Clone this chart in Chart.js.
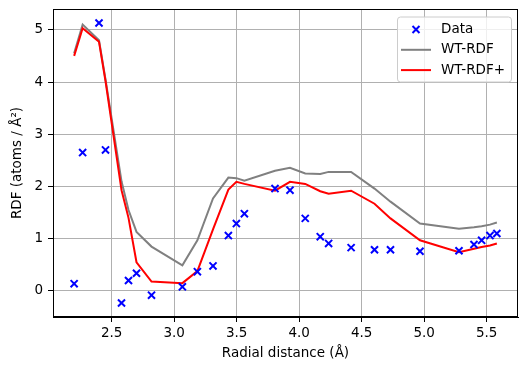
<!DOCTYPE html>
<html>
<head>
<meta charset="utf-8">
<script src="https://cdn.jsdelivr.net/npm/chart.js@4"></script>
<style>
  html, body { margin: 0; padding: 0; background: #fff; }
  canvas { display: block; }
</style>
</head>
<body>
<canvas id="rdf-chart" width="528" height="371"></canvas>
<script>
// radial distances shared by data points and both model curves
const distances = [2.200, 2.268, 2.399, 2.451, 2.579, 2.635, 2.699, 2.819, 3.066, 3.186,
                   3.311, 3.434, 3.498, 3.562, 3.807, 3.927, 4.049, 4.169, 4.236, 4.416,
                   4.603, 4.731, 4.967, 5.279, 5.399, 5.460, 5.527, 5.582];
const dataRdf = [0.14, 2.65, 5.13, 2.70, -0.23, 0.20, 0.34, -0.08, 0.08, 0.37,
                 0.48, 1.06, 1.29, 1.48, 1.96, 1.93, 1.39, 1.04, 0.91, 0.83,
                 0.79, 0.79, 0.76, 0.77, 0.89, 0.97, 1.06, 1.10];
const wtRdf = [4.55, 5.10, 4.80, 4.05, 2.10, 1.55, 1.13, 0.85, 0.49, 0.97,
               1.77, 2.17, 2.16, 2.11, 2.30, 2.36, 2.25, 2.24, 2.28, 2.28,
               1.96, 1.71, 1.29, 1.19, 1.22, 1.24, 1.27, 1.31];
const wtRdfPlus = [4.50, 5.03, 4.77, 4.02, 1.93, 1.40, 0.55, 0.18, 0.15, 0.38,
                   1.18, 1.94, 2.09, 2.05, 1.92, 2.09, 2.05, 1.91, 1.86, 1.92,
                   1.67, 1.39, 0.97, 0.74, 0.81, 0.84, 0.87, 0.91];
const xTicks = [2.5, 3.0, 3.5, 4.0, 4.5, 5.0, 5.5];
const yTicks = [0, 1, 2, 3, 4, 5];

const FONT = { family: "'DejaVu Sans', sans-serif", size: 13.5 };

const toPoints = ys => distances.map((x, i) => ({ x: x, y: ys[i] }));

// matplotlib-like 5% margins around the data
const pad = (lo, hi) => { const r = hi - lo; return [lo - 0.05 * r, hi + 0.05 * r]; };
const [xMin, xMax] = pad(Math.min(...distances), Math.max(...distances));
const allY = dataRdf.concat(wtRdf, wtRdfPlus);
const [yMin, yMax] = pad(Math.min(...allY), Math.max(...allY));

const frame = {
    id: 'frame',
    afterDatasetsDraw(chart) {
        const { ctx, chartArea: a } = chart;
        ctx.save();
        ctx.strokeStyle = '#000';
        ctx.lineWidth = 1;
        ctx.strokeRect(Math.round(a.left) + 0.5, Math.round(a.top) + 0.5,
                       Math.round(a.right - a.left) - 1, Math.round(a.bottom - a.top) - 1);
        ctx.restore();
    }
};

const boxLegend = {
    id: 'boxLegend',
    afterDraw(chart) {
        const { ctx, chartArea: a } = chart;
        const w = 114, h = 65;
        const bx = a.right - 7 - w, by = a.top + 7.5;
        ctx.save();
        ctx.beginPath();
        ctx.roundRect(bx + 0.5, by + 0.5, w, h, 3);
        ctx.fillStyle = 'rgba(255,255,255,0.8)';
        ctx.fill();
        ctx.strokeStyle = '#cccccc';
        ctx.lineWidth = 1;
        ctx.stroke();
        ctx.font = `${FONT.size}px ${FONT.family}`;
        ctx.textBaseline = 'middle';
        chart.data.datasets.forEach((ds, i) => {
            const cy = by + 13 + i * 20.3;
            if (ds.showLine) {
                ctx.strokeStyle = ds.borderColor;
                ctx.lineWidth = ds.borderWidth;
                ctx.beginPath();
                ctx.moveTo(bx + 4, cy);
                ctx.lineTo(bx + 34, cy);
                ctx.stroke();
            } else {
                ctx.strokeStyle = ds.borderColor;
                ctx.lineWidth = 2;
                ctx.beginPath();
                ctx.moveTo(bx + 15.5, cy - 3.5); ctx.lineTo(bx + 22.5, cy + 3.5);
                ctx.moveTo(bx + 15.5, cy + 3.5); ctx.lineTo(bx + 22.5, cy - 3.5);
                ctx.stroke();
            }
            ctx.fillStyle = '#000';
            ctx.fillText(ds.label, bx + 44, cy);
        });
        ctx.restore();
    }
};

new Chart(document.getElementById('rdf-chart'), {
    type: 'scatter',
    data: {
        datasets: [
            {
                label: 'Data',
                data: toPoints(dataRdf),
                showLine: false,
                pointStyle: 'crossRot',
                pointRadius: 5,
                borderColor: '#0000ff',
                backgroundColor: '#0000ff',
                pointBorderWidth: 2,
                order: 0
            },
            {
                label: 'WT-RDF',
                data: toPoints(wtRdf),
                showLine: true,
                borderColor: '#808080',
                borderWidth: 2,
                pointRadius: 0,
                tension: 0,
                order: 2
            },
            {
                label: 'WT-RDF+',
                data: toPoints(wtRdfPlus),
                showLine: true,
                borderColor: '#ff0000',
                borderWidth: 2,
                pointRadius: 0,
                tension: 0,
                order: 1
            }
        ]
    },
    options: {
        responsive: false,
        animation: false,
        devicePixelRatio: 1,
        layout: { padding: { top: 9, right: 10, left: 0, bottom: 0 } },
        plugins: {
            legend: { display: false },
            tooltip: { enabled: false }
        },
        scales: {
            x: {
                type: 'linear',
                min: xMin,
                max: xMax,
                afterBuildTicks: s => { s.ticks = xTicks.map(v => ({ value: v })); },
                afterFit: s => { s.height = 54; s.paddingLeft = 0; s.paddingRight = 0; },
                ticks: { font: FONT, color: '#000', padding: 3, maxRotation: 0,
                         callback: v => v.toFixed(1) },
                grid: { color: '#b0b0b0', lineWidth: 1, tickLength: 5, tickColor: '#000', tickWidth: 1 },
                border: { color: '#000', width: 1 },
                title: { display: true, text: 'Radial distance (Å)', font: FONT, color: '#000',
                         padding: { top: 4, bottom: 9 } }
            },
            y: {
                type: 'linear',
                min: yMin,
                max: yMax,
                afterBuildTicks: s => { s.ticks = yTicks.map(v => ({ value: v })); },
                afterFit: s => { s.width = 53; s.paddingTop = 0; s.paddingBottom = 0; },
                ticks: { font: FONT, color: '#000', padding: 5 },
                grid: { color: '#b0b0b0', lineWidth: 1, tickLength: 5, tickColor: '#000', tickWidth: 1 },
                border: { color: '#000', width: 1 },
                title: { display: true, text: 'RDF (atoms / Å²)', font: FONT, color: '#000',
                         padding: { top: 9, bottom: 4 } }
            }
        }
    },
    plugins: [frame, boxLegend]
});
</script>
</body>
</html>
